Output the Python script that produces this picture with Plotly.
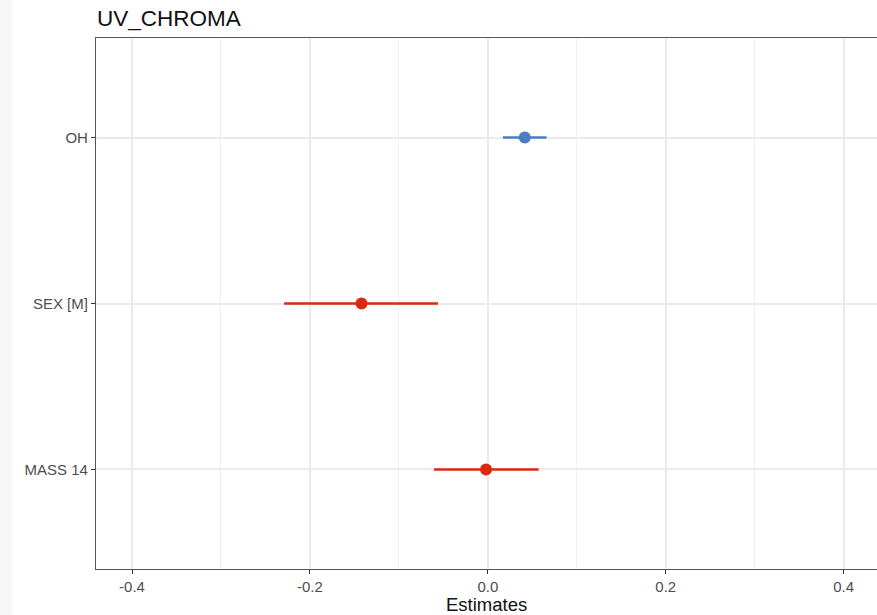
import plotly.graph_objects as go

terms = ["MASS 14", "SEX [M]", "OH"]
ypos = [1, 2, 3]
estimates = [-0.002, -0.142, 0.0415]
ci_low = [-0.0605, -0.229, 0.017]
ci_high = [0.057, -0.056, 0.066]
colors = ["#d92b0b", "#d92b0b", "#4a7cc0"]
xticks = [-0.4, -0.2, 0.0, 0.2, 0.4]
xticklabels = ["-0.4", "-0.2", "0.0", "0.2", "0.4"]

fig = go.Figure()
for t, y, e, lo, hi, c in zip(terms, ypos, estimates, ci_low, ci_high, colors):
    fig.add_trace(go.Scatter(x=[lo, hi], y=[y, y], mode="lines",
                             line=dict(color=c, width=2.6), showlegend=False, hoverinfo="skip"))
    fig.add_trace(go.Scatter(x=[e], y=[y], mode="markers",
                             marker=dict(color=c, size=12), showlegend=False, name=t))

W, H = 877, 615
L, R, T, B = 96, 0, 38, 46
pw = W - L - R

fig.update_layout(
    width=W, height=H,
    margin=dict(l=L, r=R, t=T, b=B),
    paper_bgcolor="white", plot_bgcolor="white",
    font=dict(family="Liberation Sans, Arial, sans-serif", color="#4d4d4d"),
    xaxis=dict(range=[-0.4405, 0.4375], tickvals=xticks, ticktext=xticklabels,
               showgrid=True, gridcolor="#ebebeb", gridwidth=1.5,
               minor=dict(dtick=0.1, tick0=0, showgrid=True, gridcolor="#f1f1f1", gridwidth=1.3, ticks=""),
               zeroline=False, showline=True, linecolor="#555555", linewidth=1.2, mirror=True,
               ticks="outside", ticklen=4, tickcolor="#333333", tickwidth=1.2,
               tickfont=dict(size=15, color="#4d4d4d")),
    yaxis=dict(range=[0.4, 3.6], tickvals=ypos, ticktext=terms,
               showgrid=True, gridcolor="#ebebeb", gridwidth=1.5, zeroline=False,
               showline=True, linecolor="#555555", linewidth=1.2, mirror=False,
               ticks="outside", ticklen=4, tickcolor="#333333", tickwidth=1.2,
               tickfont=dict(size=15, color="#4d4d4d")),
    annotations=[
        dict(text="UV_CHROMA", xref="paper", yref="paper", x=-1 / pw, y=1, yshift=5,
             xanchor="left", yanchor="bottom", showarrow=False,
             font=dict(size=22.5, color="#111111")),
        dict(text="Estimates", xref="paper", yref="paper", x=(487 - L) / pw, y=0, yshift=-48,
             xanchor="center", yanchor="bottom", showarrow=False,
             font=dict(size=18.5, color="#111111")),
    ],
    shapes=[
        dict(type="rect", xref="paper", yref="paper", x0=-L / pw, x1=(12 - L) / pw,
             y0=-B / (H - T - B), y1=1 + T / (H - T - B), fillcolor="#f7f7f7",
             line=dict(width=0), layer="below"),
    ],
)

fig.write_html("out.html")
